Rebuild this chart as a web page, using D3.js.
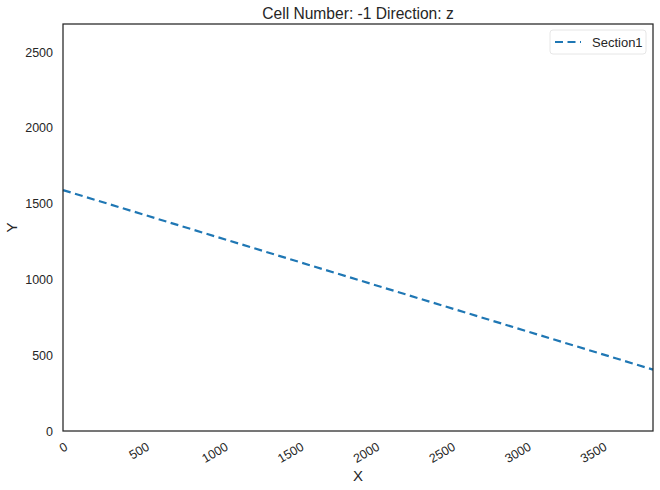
<!DOCTYPE html>
<html><head><meta charset="utf-8">
<script src="https://cdn.jsdelivr.net/npm/d3@7"></script>
<style>
body{margin:0;background:#fff;}
text{font-family:"Liberation Sans",Arial,sans-serif;fill:#262626;}
</style></head>
<body><svg id="c" width="660" height="490"></svg>
<script>
const title = "Cell Number: -1 Direction: z";
const seriesName = "Section1";
const xValues = [0, 3895];
const yValues = [1590, 405];
const xTicks = [0, 500, 1000, 1500, 2000, 2500, 3000, 3500];
const yTicks = [0, 500, 1000, 1500, 2000, 2500];
const xDomain = [0, 3895];
const yDomain = [0, 2686];

const svg = d3.select("#c");
const L = 63, R = 653, T = 24, B = 431;
const x = d3.scaleLinear().domain(xDomain).range([L, R]);
const y = d3.scaleLinear().domain(yDomain).range([B, T]);

// y axis
const ya = svg.append("g").attr("transform", `translate(${L},0)`)
  .call(d3.axisLeft(y).tickValues(yTicks).tickSize(0).tickPadding(10).tickFormat(d3.format("d")));
ya.select(".domain").remove();
ya.selectAll("text").attr("font-size", 12.5).style("font-family", '"Liberation Sans",Arial,sans-serif').attr("fill", "#262626");

// x axis
const xa = svg.append("g").attr("transform", `translate(0,${B})`)
  .call(d3.axisBottom(x).tickValues(xTicks).tickSize(0).tickFormat(d3.format("d")));
xa.select(".domain").remove();
xa.selectAll("text").each(function(d){
  const t = d3.select(this);
  t.attr("font-size", 12.5).style("font-family", '"Liberation Sans",Arial,sans-serif').attr("fill", "#262626")
   .attr("text-anchor","middle").attr("dy", null).attr("y", 0).attr("dominant-baseline","central");
  const w = this.getComputedTextLength();
  const hh = (w*0.5 + 12.5*0.866)/2;
  t.attr("transform", `translate(0,${9.5 + hh}) rotate(-30)`);
});

// line
const line = d3.line().x((d,i)=>x(xValues[i])).y((d,i)=>y(d));
svg.append("path").datum(yValues).attr("d", line)
  .attr("fill","none").attr("stroke","#1f77b4").attr("stroke-width",2.2)
  .attr("stroke-dasharray","8,4.5");

// frame
svg.append("rect").attr("x",L).attr("y",T).attr("width",R-L).attr("height",B-T)
  .attr("fill","none").attr("stroke","#262626").attr("stroke-width",1.25);

// title & labels
svg.append("text").attr("x",(L+R)/2).attr("y",18.5).attr("text-anchor","middle")
  .attr("font-size",15.6).text(title);
svg.append("text").attr("x",(L+R)/2).attr("y",481).attr("text-anchor","middle")
  .attr("font-size",15).text("X");
svg.append("text").attr("transform",`translate(17,${(T+B)/2}) rotate(-90)`).attr("text-anchor","middle")
  .attr("font-size",15).text("Y");

// legend
const lg = svg.append("g");
lg.append("rect").attr("x",550).attr("y",30).attr("width",96).attr("height",24).attr("rx",3)
  .attr("fill","#fff").attr("stroke","#e6e6e6").attr("stroke-width",1);
lg.append("line").attr("x1",555).attr("x2",581).attr("y1",42).attr("y2",42)
  .attr("stroke","#1f77b4").attr("stroke-width",2.2).attr("stroke-dasharray","8,4.5");
lg.append("text").attr("x",592).attr("y",46.5).attr("font-size",13).text(seriesName);
</script></body></html>
